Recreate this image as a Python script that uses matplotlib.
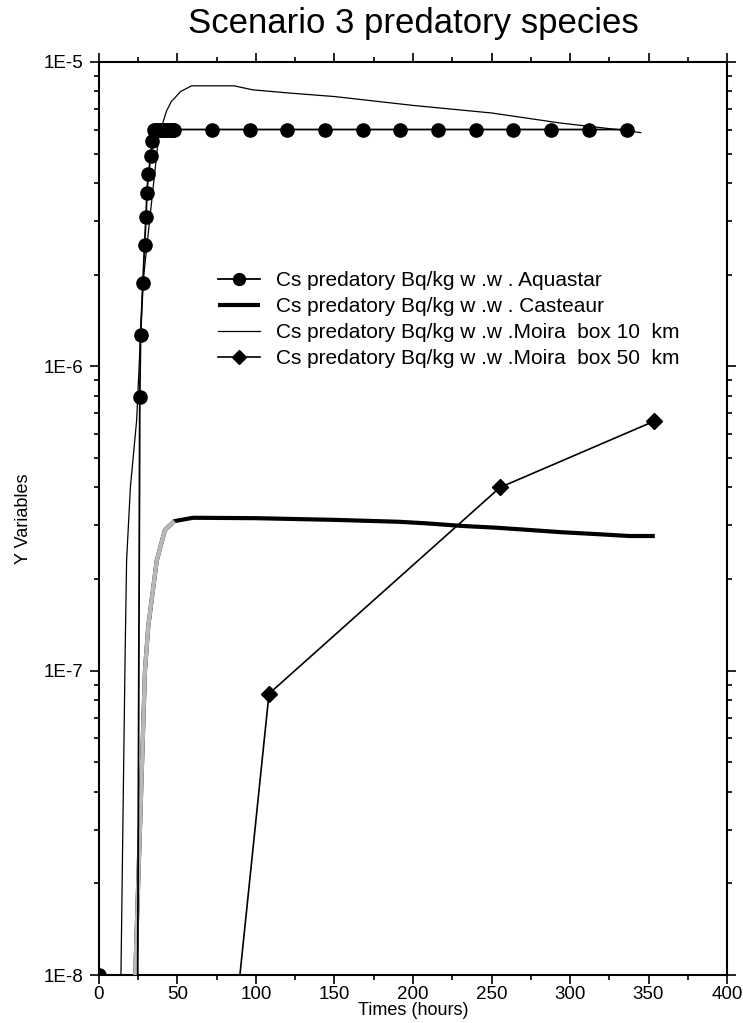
import matplotlib.pyplot as plt
import numpy as np
from matplotlib.ticker import FixedLocator, FixedFormatter, LogLocator, MultipleLocator, NullFormatter

plt.rcParams["font.family"] = ["Liberation Sans", "DejaVu Sans"]

# Aquastar model output (hours, Bq/kg w.w.)
aquastar_t = [0, 24, 26, 26.5, 28, 29, 30, 30.5, 31.5, 33, 34,
              35, 36, 37, 38, 39, 40, 41, 42, 43, 44, 45, 46, 47, 48,
              72, 96, 120, 144, 168, 192, 216, 240, 264, 288, 312, 336]
aquastar_v = [1.0e-8, 1.0e-9, 7.9e-7, 1.27e-6, 1.88e-6, 2.5e-6, 3.1e-6, 3.7e-6, 4.3e-6, 4.9e-6, 5.5e-6,
              6.0e-6, 6.0e-6, 6.0e-6, 6.0e-6, 6.0e-6, 6.0e-6, 6.0e-6, 6.0e-6, 6.0e-6, 6.0e-6, 6.0e-6, 6.0e-6,
              6.0e-6, 6.0e-6,
              6.0e-6, 6.0e-6, 6.0e-6, 6.0e-6, 6.0e-6, 6.0e-6, 6.0e-6, 6.0e-6, 6.0e-6, 6.0e-6, 6.0e-6, 6.0e-6]

# Casteaur model output
casteaur_t = [22.5, 23.6, 26.5, 29.3, 31.4, 36.8, 42, 48, 60, 100, 150,
              191, 208, 231, 253, 274, 295, 317, 338, 354]
casteaur_v = [8.0e-9, 1.2e-8, 3.5e-8, 1.0e-7, 1.4e-7, 2.3e-7, 2.9e-7, 3.1e-7, 3.18e-7, 3.17e-7, 3.13e-7,
              3.085e-7, 3.05e-7, 2.99e-7, 2.95e-7, 2.9e-7, 2.85e-7, 2.81e-7, 2.77e-7, 2.77e-7]

# Moira, 10 km box
moira10_t = [12, 14, 16.6, 17.6, 20, 24, 28, 38, 43, 46, 52, 59, 86, 98, 110, 122,
             150, 200, 250, 294, 330, 345]
moira10_v = [2.0e-9, 1.0e-8, 1.08e-7, 2.3e-7, 4.0e-7, 6.65e-7, 1.88e-6, 5.7e-6, 6.9e-6, 7.4e-6, 8.0e-6,
             8.35e-6, 8.35e-6, 8.1e-6, 8.0e-6, 7.9e-6, 7.7e-6, 7.2e-6, 6.8e-6, 6.3e-6, 6.0e-6, 5.86e-6]

# Moira, 50 km box
moira50_t = [72, 108.3, 255.4, 353.5]
moira50_v = [1.3e-9, 8.4e-8, 4.0e-7, 6.6e-7]

series_labels = [
    "Cs predatory Bq/kg w .w . Aquastar",
    "Cs predatory Bq/kg w .w . Casteaur",
    "Cs predatory Bq/kg w .w .Moira  box 10  km",
    "Cs predatory Bq/kg w .w .Moira  box 50  km",
]

y_major = [1e-8, 1e-7, 1e-6, 1e-5]
y_major_labels = ["1E-8", "1E-7", "1E-6", "1E-5"]

fig = plt.figure(figsize=(7.43, 10.23), dpi=100)
ax = fig.add_axes([0.1332, 0.0469, 0.8453, 0.8925])

ax.set_yscale("log")
ax.set_xlim(0, 400)
ax.set_ylim(1e-8, 1e-5)

h1, = ax.plot(aquastar_t, aquastar_v, color="black", lw=1.3, marker="o", ms=9.5,
              label=series_labels[0], zorder=4)
h2, = ax.plot(casteaur_t, casteaur_v, color="black", lw=3.0, label=series_labels[1],
              solid_capstyle="butt", zorder=3)
# rising limb of the Casteaur curve is printed in grey
rise = [i for i, t in enumerate(casteaur_t) if t <= 48]
ax.plot([casteaur_t[i] for i in rise], [casteaur_v[i] for i in rise],
        color="#b8b8b8", lw=3.0, solid_capstyle="butt", zorder=3)
h3, = ax.plot(moira10_t, moira10_v, color="black", lw=0.9, label=series_labels[2], zorder=3)
h4, = ax.plot(moira50_t, moira50_v, color="black", lw=1.2, marker="D", ms=8,
              label=series_labels[3], zorder=3)

ax.yaxis.set_major_locator(FixedLocator(y_major))
ax.yaxis.set_major_formatter(FixedFormatter(y_major_labels))
ax.yaxis.set_minor_locator(LogLocator(base=10, subs=np.arange(2, 10)))
ax.yaxis.set_minor_formatter(NullFormatter())
ax.xaxis.set_major_locator(MultipleLocator(50))
ax.xaxis.set_minor_locator(MultipleLocator(25))

ax.tick_params(which="both", direction="out", top=True, right=True, width=1.2, labelsize=13.5)
ax.tick_params(axis="x", pad=1.5)
ax.tick_params(axis="y", pad=5)
ax.tick_params(which="major", length=6.5)
ax.tick_params(which="minor", length=3.8)
for sp in ax.spines.values():
    sp.set_linewidth(1.5)

ax.set_xlabel("Times (hours)", fontsize=13, labelpad=-1)
ax.set_ylabel("Y Variables", fontsize=13, labelpad=8)
fig.text(0.5 * (0.1332 + 0.9785), 1 - 23 / 1023, "Scenario 3 predatory species",
         ha="center", va="center", fontsize=25)

ax.legend(handles=[h1, h2, h3, h4], loc="upper left", bbox_to_anchor=(218 / 743, 1 - 271 / 1023),
          bbox_transform=fig.transFigure, frameon=False, fontsize=15, handlelength=2.0,
          handletextpad=0.8, labelspacing=0.34, borderpad=0, borderaxespad=0, markerscale=0.9)

fig.savefig("out.png", dpi=100)
